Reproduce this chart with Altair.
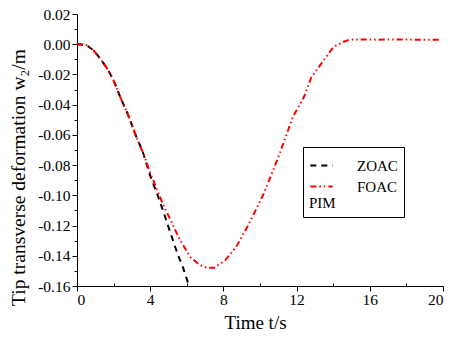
import altair as alt
import pandas as pd

# ZOAC series (black dashed)
zoac_t = [0, 0.5, 0.9, 1.3, 1.7, 2.0, 2.4, 2.8, 3.2, 3.6, 4.0, 4.5, 5.0, 5.5, 5.8, 6.07]
zoac_v = [0, -0.0005, -0.004, -0.010, -0.017, -0.024, -0.036, -0.047, -0.060, -0.0715,
          -0.087, -0.103, -0.121, -0.139, -0.148, -0.158]

# FOAC series (red dash-dot-dot)
foac_t = [0, 0.45, 0.9, 1.3, 1.7, 2.0, 2.4, 2.8, 3.2, 3.6, 4.0, 4.3, 4.7, 5.1, 5.6, 6.2,
          6.7, 7.1, 7.5, 8.1, 8.7, 9.3, 9.8, 10.2, 10.6, 11.1, 11.8, 12.4, 12.8, 13.4,
          14.0, 14.5, 14.9, 15.5, 16.5, 17.5, 18.5, 19.5, 19.8]
foac_v = [0, 0, -0.004, -0.010, -0.017, -0.024, -0.036, -0.047, -0.060, -0.0715, -0.085,
          -0.094, -0.106, -0.116, -0.129, -0.141, -0.146, -0.148, -0.148, -0.143, -0.134,
          -0.121, -0.109, -0.099, -0.087, -0.0715, -0.048, -0.035, -0.022, -0.012, -0.002,
          0.0013, 0.003, 0.0032, 0.003, 0.0032, 0.003, 0.003, 0.003]

series_names = ["ZOAC", "FOAC"]
series_colors = ["#000000", "#ff0000"]
series_dashes = [[6, 5], [6, 3, 1.5, 3, 1.5, 3]]

x_major = [0, 4, 8, 12, 16, 20]
x_minor = [2, 6, 10, 14, 18]
y_major = [-0.16, -0.14, -0.12, -0.10, -0.08, -0.06, -0.04, -0.02, 0.00, 0.02]
y_minor = [-0.15, -0.13, -0.11, -0.09, -0.07, -0.05, -0.03, -0.01, 0.01]

df = pd.concat([
    pd.DataFrame({"t": zoac_t, "v": zoac_v, "series": "ZOAC", "order": range(len(zoac_t))}),
    pd.DataFrame({"t": foac_t, "v": foac_v, "series": "FOAC", "order": range(len(foac_t))}),
])

FONT = "Liberation Serif"

xscale = alt.Scale(domain=[0, 20], nice=False)
yscale = alt.Scale(domain=[-0.16, 0.02], nice=False, zero=False)

lines = alt.Chart(df).mark_line(strokeWidth=2, clip=True).encode(
    x=alt.X("t:Q", scale=xscale, title="Time t/s",
            axis=alt.Axis(orient="bottom", values=x_major, format="d", tickSize=5,
                          labelPadding=1, titlePadding=6, titleFontSize=19,
                          titleX=178, labelFontSize=15.5)),
    y=alt.Y("v:Q", scale=yscale, title="Tip transverse deformation w\u2082/m",
            axis=alt.Axis(orient="left", values=y_major, tickSize=5, labelPadding=2,
                          labelExpr="replace(format(datum.value, '.2f'), '\u2212', '-')",
                          titlePadding=9, titleFontSize=19.5, titleY=163,
                          labelFontSize=15.5)),
    color=alt.Color("series:N", scale=alt.Scale(domain=series_names, range=series_colors),
                    legend=alt.Legend(title="PIM", orient="none", legendX=226, legendY=133,
                                      titleOrient="bottom", titleAnchor="start",
                                      titleFont=FONT, titleFontSize=15, titleFontWeight="normal",
                                      titleColor="black", titlePadding=1,
                                      labelFont=FONT, labelFontSize=15, labelColor="black",
                                      labelOffset=23, symbolType="stroke", symbolSize=500,
                                      symbolStrokeWidth=2, rowPadding=0,
                                      strokeColor="black", fillColor="white",
                                      padding=6, cornerRadius=0)),
    strokeDash=alt.StrokeDash("series:N",
                              scale=alt.Scale(domain=series_names, range=series_dashes),
                              legend=None),
    order="order:Q",
)

minor = alt.Chart(df).mark_point(opacity=0).encode(
    x=alt.X("t:Q", scale=xscale,
            axis=alt.Axis(orient="bottom", values=x_minor, labels=False, domain=False,
                          tickSize=3, offset=-3, title=None)),
    y=alt.Y("v:Q", scale=yscale,
            axis=alt.Axis(orient="left", values=y_minor, labels=False, domain=False,
                          tickSize=3, title=None)),
)

chart = alt.layer(lines, minor).resolve_axis(x="independent", y="independent").properties(
    width=366, height=272,
    autosize=alt.AutoSizeParams(type="none"),
    padding={"left": 77, "top": 14, "right": 10, "bottom": 52},
    background="white",
).configure_view(stroke=None).configure_axis(
    grid=False, domainColor="black", tickColor="black", labelColor="black",
    titleColor="black", labelFont=FONT, titleFont=FONT, titleFontWeight="normal",
    domainWidth=1, tickWidth=1,
)

chart.save("out.html", embed_options={"renderer": "svg", "actions": False})
